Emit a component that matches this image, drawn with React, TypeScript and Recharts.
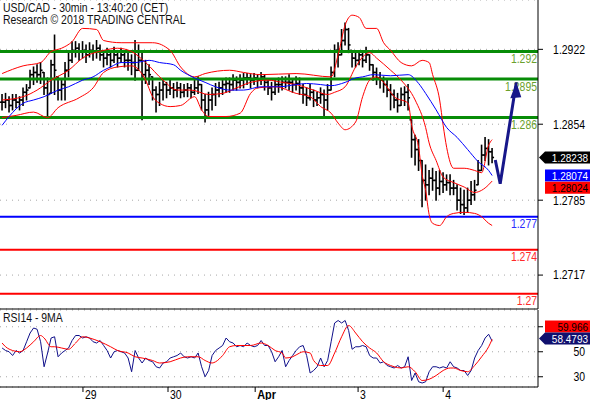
import React from 'react';
import { ComposedChart, Bar, Line, XAxis, YAxis, CartesianGrid, ReferenceLine } from 'recharts';

const FONT = '"Liberation Sans", Arial, sans-serif';
const SX = 0.87;
const W = 590;

const title = 'USD/CAD - 30min - 13:40:20 (CET)';
const subtitle = 'Research © 2018 TRADING CENTRAL';
const rsiTitle = 'RSI14 - 9MA';

// 30-min OHLC (one bar per step), high / low / close
const highs = [
  1.2881, 1.2882, 1.2879, 1.2881, 1.2881, 1.2879, 1.2887, 1.2890, 1.2903, 1.2906,
  1.2908, 1.2910, 1.2901, 1.2896, 1.2912, 1.2935, 1.2897, 1.2894, 1.2910, 1.2919,
  1.2929, 1.2929, 1.2927, 1.2929, 1.2926, 1.2928, 1.2926, 1.2930, 1.2926, 1.2921,
  1.2923, 1.2920, 1.2924, 1.2921, 1.2923, 1.2920, 1.2921, 1.2917, 1.2930, 1.2926,
  1.2921, 1.2912, 1.2908, 1.2897, 1.2888, 1.2892, 1.2894, 1.2892, 1.2894, 1.2891,
  1.2892, 1.2891, 1.2890, 1.2891, 1.2890, 1.2894, 1.2897, 1.2890, 1.2881, 1.2883,
  1.2887, 1.2891, 1.2892, 1.2894, 1.2896, 1.2896, 1.2899, 1.2897, 1.2899, 1.2900,
  1.2900, 1.2899, 1.2900, 1.2899, 1.2901, 1.2899, 1.2894, 1.2892, 1.2894, 1.2896,
  1.2897, 1.2897, 1.2899, 1.2894, 1.2897, 1.2896, 1.2890, 1.2887, 1.2890, 1.2885,
  1.2883, 1.2887, 1.2885, 1.2890, 1.2906, 1.2926, 1.2928, 1.2940, 1.2946, 1.2941,
  1.2921, 1.2920, 1.2921, 1.2919, 1.2924, 1.2917, 1.2908, 1.2905, 1.2901, 1.2897,
  1.2894, 1.2890, 1.2885, 1.2882, 1.2887, 1.2888, 1.2890, 1.2858, 1.2844, 1.2840,
  1.2821, 1.2817, 1.2812, 1.2814, 1.2811, 1.2812, 1.2810, 1.2808, 1.2808, 1.2803,
  1.2799, 1.2796, 1.2794, 1.2796, 1.2802, 1.2803, 1.2821, 1.2835, 1.2842, 1.2840,
  1.2832,
];
const lows = [
  1.2867, 1.2869, 1.2865, 1.2867, 1.2869, 1.2867, 1.2871, 1.2876, 1.2887, 1.2890,
  1.2892, 1.2891, 1.2881, 1.2860, 1.2882, 1.2881, 1.2876, 1.2876, 1.2876, 1.2897,
  1.2910, 1.2915, 1.2912, 1.2914, 1.2910, 1.2915, 1.2912, 1.2914, 1.2912, 1.2906,
  1.2908, 1.2906, 1.2910, 1.2906, 1.2910, 1.2906, 1.2903, 1.2899, 1.2894, 1.2903,
  1.2858, 1.2891, 1.2890, 1.2876, 1.2865, 1.2871, 1.2876, 1.2878, 1.2881, 1.2878,
  1.2879, 1.2878, 1.2879, 1.2879, 1.2878, 1.2881, 1.2882, 1.2867, 1.2856, 1.2862,
  1.2867, 1.2871, 1.2879, 1.2881, 1.2883, 1.2883, 1.2885, 1.2885, 1.2887, 1.2887,
  1.2890, 1.2887, 1.2890, 1.2887, 1.2890, 1.2885, 1.2881, 1.2876, 1.2881, 1.2883,
  1.2885, 1.2887, 1.2885, 1.2883, 1.2885, 1.2881, 1.2873, 1.2871, 1.2876, 1.2870,
  1.2871, 1.2873, 1.2860, 1.2867, 1.2885, 1.2897, 1.2906, 1.2917, 1.2926, 1.2919,
  1.2906, 1.2906, 1.2908, 1.2906, 1.2910, 1.2903, 1.2894, 1.2890, 1.2887, 1.2883,
  1.2879, 1.2867, 1.2869, 1.2865, 1.2871, 1.2871, 1.2867, 1.2824, 1.2817, 1.2812,
  1.2779, 1.2785, 1.2790, 1.2794, 1.2785, 1.2790, 1.2792, 1.2794, 1.2790, 1.2790,
  1.2776, 1.2773, 1.2772, 1.2774, 1.2781, 1.2785, 1.2799, 1.2812, 1.2821, 1.2817,
  1.2819,
];
const closes = [
  1.2874, 1.2876, 1.2871, 1.2876, 1.2874, 1.2876, 1.2883, 1.2885, 1.2899, 1.2901,
  1.2899, 1.2903, 1.2887, 1.2881, 1.2908, 1.2903, 1.2885, 1.2890, 1.2903, 1.2912,
  1.2921, 1.2923, 1.2920, 1.2921, 1.2917, 1.2921, 1.2920, 1.2923, 1.2917, 1.2914,
  1.2917, 1.2912, 1.2917, 1.2914, 1.2917, 1.2912, 1.2912, 1.2910, 1.2903, 1.2912,
  1.2899, 1.2903, 1.2899, 1.2885, 1.2881, 1.2885, 1.2890, 1.2885, 1.2887, 1.2885,
  1.2887, 1.2883, 1.2885, 1.2887, 1.2883, 1.2887, 1.2890, 1.2876, 1.2867, 1.2876,
  1.2881, 1.2885, 1.2887, 1.2890, 1.2891, 1.2890, 1.2894, 1.2892, 1.2894, 1.2896,
  1.2896, 1.2894, 1.2896, 1.2894, 1.2897, 1.2892, 1.2887, 1.2883, 1.2890, 1.2890,
  1.2892, 1.2892, 1.2892, 1.2890, 1.2891, 1.2887, 1.2881, 1.2878, 1.2883, 1.2876,
  1.2878, 1.2881, 1.2876, 1.2885, 1.2901, 1.2921, 1.2917, 1.2930, 1.2940, 1.2926,
  1.2914, 1.2912, 1.2917, 1.2912, 1.2917, 1.2908, 1.2901, 1.2896, 1.2894, 1.2890,
  1.2885, 1.2881, 1.2876, 1.2871, 1.2881, 1.2883, 1.2878, 1.2840, 1.2831, 1.2821,
  1.2803, 1.2799, 1.2805, 1.2803, 1.2796, 1.2802, 1.2799, 1.2801, 1.2796, 1.2796,
  1.2785, 1.2781, 1.2778, 1.2785, 1.2790, 1.2794, 1.2812, 1.2826, 1.2832, 1.2829,
  1.28238,
];

// Bollinger bands (red) and moving average (blue), read at [bar, value]
const upperBand: [number, number][] = [
  [0, 1.2900], [6, 1.2907], [11, 1.2910], [14, 1.2920], [17, 1.2923], [20, 1.2929], [23, 1.2941],
  [27, 1.2940], [29, 1.2930], [34, 1.2928], [43, 1.2928], [48, 1.2921], [51, 1.2906], [55, 1.2897],
  [58, 1.2900], [65, 1.2903], [69, 1.2901], [74, 1.2899], [84, 1.2900], [94, 1.2897], [96, 1.2917],
  [98, 1.2944], [100, 1.2953], [102, 1.2951], [104, 1.2941], [107, 1.2941], [109, 1.2928],
  [111, 1.2921], [114, 1.2910], [117, 1.2907], [120, 1.2912], [122, 1.2910], [123, 1.2899],
  [125, 1.2876], [126, 1.2853], [127, 1.2833], [129, 1.2814], [132, 1.2814], [135, 1.2812],
  [137, 1.2810], [139, 1.2835], [140, 1.2840],
];
const middleBand: [number, number][] = [
  [0, 1.2876], [6, 1.2879], [10, 1.2885], [14, 1.2894], [19, 1.2903], [23, 1.2914], [29, 1.2921],
  [33, 1.2923], [37, 1.2920], [41, 1.2910], [46, 1.2894], [50, 1.2885], [54, 1.2885], [59, 1.2881],
  [63, 1.2882], [67, 1.2887], [71, 1.2892], [76, 1.2894], [80, 1.2892], [84, 1.2890], [89, 1.2885],
  [93, 1.2881], [95, 1.2883], [98, 1.2888], [101, 1.2906], [103, 1.2915], [105, 1.2919],
  [107, 1.2914], [111, 1.2903], [114, 1.2894], [118, 1.2876], [121, 1.2851], [122, 1.2837],
  [124, 1.2821], [126, 1.2806], [129, 1.2801], [132, 1.2797], [135, 1.2792], [137, 1.2794],
  [139, 1.2799], [140, 1.28024],
];
const lowerBand: [number, number][] = [
  [0, 1.2860], [4, 1.2862], [9, 1.2865], [13, 1.2860], [16, 1.2869], [22, 1.2878], [26, 1.2887],
  [29, 1.2901], [33, 1.2906], [37, 1.2907], [41, 1.2894], [43, 1.2879], [45, 1.2873], [48, 1.2870],
  [51, 1.2871], [55, 1.2879], [57, 1.2867], [59, 1.2861], [64, 1.2861], [68, 1.2864], [71, 1.2882],
  [73, 1.2887], [78, 1.2888], [84, 1.2882], [88, 1.2879], [91, 1.2870], [94, 1.2864], [96, 1.2855],
  [98, 1.2849], [101, 1.2856], [103, 1.2879], [105, 1.2894], [107, 1.2897], [109, 1.2892],
  [112, 1.2879], [116, 1.2873], [117, 1.2853], [119, 1.2833], [120, 1.2808], [121, 1.2794],
  [122, 1.2772], [123, 1.2764], [125, 1.2762], [127, 1.2770], [129, 1.2773], [132, 1.2774],
  [135, 1.2773], [137, 1.2770], [139, 1.2764], [140, 1.2762],
];
const blueMA: [number, number][] = [
  [0, 1.2853], [2, 1.2861], [6, 1.2873], [9, 1.2876], [12, 1.2879], [16, 1.2885], [19, 1.2888],
  [23, 1.2894], [26, 1.2897], [29, 1.2903], [31, 1.2906], [34, 1.2910], [38, 1.2910], [42, 1.2912],
  [45, 1.2910], [49, 1.2908], [51, 1.2903], [55, 1.2896], [58, 1.2892], [61, 1.2888], [65, 1.2885],
  [69, 1.2885], [74, 1.2888], [79, 1.2888], [84, 1.2890], [87, 1.2891], [91, 1.2890], [94, 1.2889],
  [98, 1.2892], [101, 1.2896], [103, 1.2897], [106, 1.2899], [111, 1.2898], [116, 1.2899],
  [119, 1.2891], [121, 1.2882], [124, 1.2867], [127, 1.2851], [130, 1.2842], [133, 1.2831],
  [136, 1.2820], [139, 1.2812], [140, 1.28074],
];

// projected path (arrow)
const projIdx = [140.9, 142.3, 146.9];
const projVal = [1.28215, 1.2800, 1.2892];

// RSI14 per bar and its 9-period MA
const rsiValues = [
  53, 51, 50, 47, 51, 49, 51, 58, 65, 69,
  68, 58, 38, 49, 61, 62, 46, 49, 51, 53,
  59, 63, 63, 61, 62, 61, 58, 57, 59, 55,
  51, 45, 50, 51, 50, 49, 45, 34, 51, 45,
  41, 45, 43, 42, 38, 37, 41, 42, 45, 46,
  47, 49, 46, 45, 46, 45, 49, 38, 30, 35,
  47, 51, 53, 55, 61, 58, 57, 54, 55, 54,
  57, 55, 54, 55, 59, 55, 55, 50, 42, 46,
  51, 38, 43, 47, 51, 54, 55, 47, 33, 35,
  38, 45, 38, 43, 58, 73, 75, 73, 75, 67,
  52, 54, 54, 55, 54, 47, 45, 45, 41, 42,
  39, 38, 37, 39, 37, 38, 46, 27, 33, 26,
  25, 26, 34, 38, 38, 37, 38, 37, 42, 38,
  37, 35, 35, 31, 35, 45, 51, 55, 61, 64,
  58.4793,
];
const rsiMA: [number, number][] = [
  [0, 57], [1, 54], [3, 51], [5, 50], [7, 53], [9, 58], [11, 63], [12, 61], [14, 54], [15, 54],
  [17, 53], [19, 52], [21, 57], [23, 62], [25, 61], [28, 58], [31, 54], [33, 51], [36, 49],
  [38, 46], [40, 45], [43, 43], [45, 41], [48, 42], [51, 45], [53, 46], [56, 46], [58, 43],
  [60, 41], [61, 42], [63, 47], [65, 54], [67, 55], [71, 55], [74, 57], [76, 55], [78, 51],
  [80, 49], [81, 45], [83, 46], [85, 49], [86, 50], [88, 49], [89, 43], [91, 39], [93, 39],
  [95, 49], [97, 62], [99, 71], [101, 65], [103, 58], [105, 53], [107, 49], [109, 42], [111, 39],
  [112, 38], [114, 37], [116, 38], [118, 34], [120, 27], [122, 28], [124, 31], [126, 35],
  [128, 37], [129, 37], [131, 35], [133, 34], [135, 39], [137, 46], [139, 54], [140, 59.966],
];

const greenLevels = [1.292, 1.2895, 1.286];
const greenLabels = ['1.292', '1.2895', '1.286'];
const blueLevels = [1.277];
const blueLabels = ['1.277'];
const redLevels = [1.274, 1.27];
const redLabels = ['1.274', '1.27'];

const priceTicks = [1.2922, 1.2854, 1.2785, 1.2717];
const rsiTicks = [30, 50, 70];
const rsiTickLabels = ['30', '50', ''];
const dayTicks = [23.1, 47.4, 72.3, 101.7, 126];
const dayLabels = ['29', '30', 'Apr', '3', '4'];

const X_DOMAIN: [number, number] = [-0.6, 153.1];
const PRICE_DOMAIN: [number, number] = [1.26862, 1.29668];
const RSI_DOMAIN: [number, number] = [21.8, 83.4];

const bars = highs.map((h, i) => ({
  i,
  h,
  l: lows[i],
  c: closes[i],
  o: i > 0 ? closes[i - 1] : closes[0],
}));
const toRows = (arr: [number, number][]) => arr.map(([i, v]) => ({ i, v }));
const upRows = toRows(upperBand);
const midRows = toRows(middleBand);
const loRows = toRows(lowerBand);
const maRows = toRows(blueMA);
const rsiRows = rsiValues.map((v, i) => ({ i, v }));
const rsiMaRows = toRows(rsiMA);
const projRows = projIdx.map((i, k) => ({ i, v: projVal[k] }));

const lastClose = closes[closes.length - 1];
const lastMA = blueMA[blueMA.length - 1][1];
const lastMid = middleBand[middleBand.length - 1][1];
const lastRsi = rsiValues[rsiValues.length - 1];
const lastRsiMA = rsiMA[rsiMA.length - 1][1];

const OhlcShape = (props: any) => {
  const { x, y, width, height, payload } = props;
  if (!payload || payload.h == null || !isFinite(y) || !isFinite(height)) return <g />;
  const cx = x + width / 2;
  const span = payload.h - payload.l || 1e-9;
  const clamp = (v: number) => Math.min(payload.h, Math.max(payload.l, v));
  const yAt = (v: number) => y + ((payload.h - clamp(v)) / span) * height;
  const yo = yAt(payload.o);
  const yc = yAt(payload.c);
  return (
    <g stroke="#000" strokeWidth={1.6}>
      <line x1={cx} x2={cx} y1={y - 0.5} y2={y + height + 0.5} />
      <line x1={cx - 2} x2={cx} y1={yo} y2={yo} />
      <line x1={cx} x2={cx + 2} y1={yc} y2={yc} />
    </g>
  );
};

const SText = ({ x, y, anchor = 'start', size = 12, color = '#000', weight = 'normal', children, dy }: any) => (
  <text
    transform={`translate(${x},${y}) scale(${SX},1)`}
    textAnchor={anchor}
    fontSize={size}
    fontFamily={FONT}
    fontWeight={weight}
    fill={color}
    dy={dy}
  >
    {children}
  </text>
);

const RefLabel = (props: any) => {
  const { viewBox, text, color } = props;
  if (!viewBox) return null;
  return <SText x={viewBox.x + viewBox.width - 1} y={viewBox.y + 11.5} anchor="end" color={color}>{text}</SText>;
};

const ValueBox = (props: any) => {
  const { viewBox, text, fill, color, notch, shift = 0 } = props;
  if (!viewBox) return null;
  const x0 = viewBox.x + viewBox.width;
  const cy = viewBox.y + shift;
  const h = 12;
  const left = x0 + 7;
  const right = W;
  const pts = notch
    ? `${x0 + 1},${cy} ${left},${cy - h / 2} ${right},${cy - h / 2} ${right},${cy + h / 2} ${left},${cy + h / 2}`
    : `${left},${cy - h / 2} ${right},${cy - h / 2} ${right},${cy + h / 2} ${left},${cy + h / 2}`;
  return (
    <g>
      <polygon points={pts} fill={fill} />
      <SText x={right - 2} y={cy} anchor="end" size={11.5} color={color} dy="0.36em">{text}</SText>
    </g>
  );
};

const AxisTick = (props: any) => {
  const { x, y, payload, fmt } = props;
  const label = fmt(payload.value);
  if (!label) return <g />;
  return <SText x={x + 40} y={y} anchor="end" dy="0.36em">{label}</SText>;
};

const DayTick = (props: any) => {
  const { x, y, payload } = props;
  const k = dayTicks.indexOf(payload.value);
  const label = dayLabels[k];
  const isMonth = label === 'Apr';
  return (
    <SText x={x + 2} y={y + 5} size={isMonth ? 12.5 : 12} weight={isMonth ? 'bold' : 'normal'}>
      {label}
    </SText>
  );
};

const ArrowDot = (props: any) => {
  const { cx, cy, payload } = props;
  if (!payload || payload.i !== projIdx[projIdx.length - 1] || cx == null) return <g key={`d${props.index}`} />;
  return (
    <polygon
      key={`d${props.index}`}
      points={`${cx},${cy} ${cx - 6},${cy + 16} ${cx + 5},${cy + 15}`}
      fill="#17178a"
    />
  );
};

const lineCommon = { dot: false, activeDot: false, isAnimationActive: false, strokeWidth: 1 } as const;

export default function App() {
  return (
    <div style={{ position: 'absolute', left: 0, top: 0, width: W, height: 400, background: '#fff', overflow: 'hidden' }}>
      <div style={{ position: 'absolute', left: 0, top: 0 }}>
        <ComposedChart width={W} height={310} data={bars} margin={{ top: 0, right: 0, left: 0, bottom: 0 }}>
          <CartesianGrid vertical={false} stroke="#a8a8a8" strokeDasharray="1 5" />
          <XAxis type="number" dataKey="i" domain={X_DOMAIN} allowDataOverflow height={1} tick={false} tickLine={false} axisLine={{ stroke: '#000' }} />
          <YAxis
            orientation="right"
            width={52}
            domain={PRICE_DOMAIN}
            allowDataOverflow
            ticks={priceTicks}
            tickSize={5}
            tickMargin={2}
            tickLine={{ stroke: '#000' }}
            axisLine={{ stroke: '#000' }}
            tick={<AxisTick fmt={(v: number) => v.toFixed(4)} />}
          />
          {greenLevels.map((v, k) => (
            <ReferenceLine key={`g${k}`} y={v} stroke="#078c07" strokeWidth={3} label={<RefLabel text={greenLabels[k]} color="#6aa02c" />} />
          ))}
          {blueLevels.map((v, k) => (
            <ReferenceLine key={`b${k}`} y={v} stroke="#0000ff" strokeWidth={2} label={<RefLabel text={blueLabels[k]} color="#2a2aff" />} />
          ))}
          {redLevels.map((v, k) => (
            <ReferenceLine key={`r${k}`} y={v} stroke="#ff0000" strokeWidth={2} label={<RefLabel text={redLabels[k]} color="#ff2a2a" />} />
          ))}
          <Bar dataKey={(d: any) => [d.l, d.h]} shape={OhlcShape} barSize={3} isAnimationActive={false} />
          <Line data={upRows} dataKey="v" type="monotone" stroke="#ff0000" {...lineCommon} />
          <Line data={midRows} dataKey="v" type="monotone" stroke="#ff0000" {...lineCommon} />
          <Line data={loRows} dataKey="v" type="monotone" stroke="#ff0000" {...lineCommon} />
          <Line data={maRows} dataKey="v" type="monotone" stroke="#0000ff" {...lineCommon} />
          <Line data={projRows} dataKey="v" type="linear" stroke="#17178a" strokeWidth={3} dot={ArrowDot} activeDot={false} isAnimationActive={false} />
          <ReferenceLine y={lastClose} stroke="none" ifOverflow="visible" label={<ValueBox text={lastClose.toFixed(5)} fill="#000" color="#fff" notch />} />
          <ReferenceLine y={lastMA} stroke="none" ifOverflow="visible" label={<ValueBox text={lastMA.toFixed(5)} fill="#0000ff" color="#fff" />} />
          <ReferenceLine y={lastMid} stroke="none" ifOverflow="visible" label={<ValueBox text={lastMid.toFixed(5)} fill="#ff0000" color="#000" shift={6.8} />} />
        </ComposedChart>
      </div>
      <div style={{ position: 'absolute', left: 0, top: 310 }}>
        <ComposedChart width={W} height={90} data={rsiRows} margin={{ top: 0, right: 0, left: 0, bottom: 0 }}>
          <CartesianGrid vertical={false} stroke="#a8a8a8" strokeDasharray="1 5" />
          <XAxis
            type="number"
            dataKey="i"
            domain={X_DOMAIN}
            allowDataOverflow
            height={13}
            ticks={dayTicks}
            tickSize={5}
            tickMargin={2}
            tickLine={{ stroke: '#000' }}
            axisLine={{ stroke: '#000' }}
            tick={<DayTick />}
            interval={0}
          />
          <YAxis
            orientation="right"
            width={52}
            domain={RSI_DOMAIN}
            allowDataOverflow
            ticks={rsiTicks}
            tickSize={5}
            tickMargin={2}
            tickLine={{ stroke: '#000' }}
            axisLine={{ stroke: '#000' }}
            tick={<AxisTick fmt={(v: number) => rsiTickLabels[rsiTicks.indexOf(v)]} />}
          />
          <Line dataKey="v" type="linear" stroke="#10108a" {...lineCommon} />
          <Line data={rsiMaRows} dataKey="v" type="monotone" stroke="#ff0000" {...lineCommon} />
          <ReferenceLine y={lastRsiMA} stroke="none" ifOverflow="visible" label={<ValueBox text={lastRsiMA.toFixed(3)} fill="#ff0000" color="#000" shift={-12.8} />} />
          <ReferenceLine y={lastRsi} stroke="none" ifOverflow="visible" label={<ValueBox text={lastRsi.toFixed(4)} fill="#10106e" color="#fff" notch shift={-2.6} />} />
        </ComposedChart>
      </div>
      <svg width={W} height={400} style={{ position: 'absolute', left: 0, top: 0, pointerEvents: 'none' }}>
        <SText x={3} y={12} color="#111">{title}</SText>
        <SText x={3} y={24} color="#111">{subtitle}</SText>
        <SText x={3} y={322} color="#111">{rsiTitle}</SText>
      </svg>
    </div>
  );
}
